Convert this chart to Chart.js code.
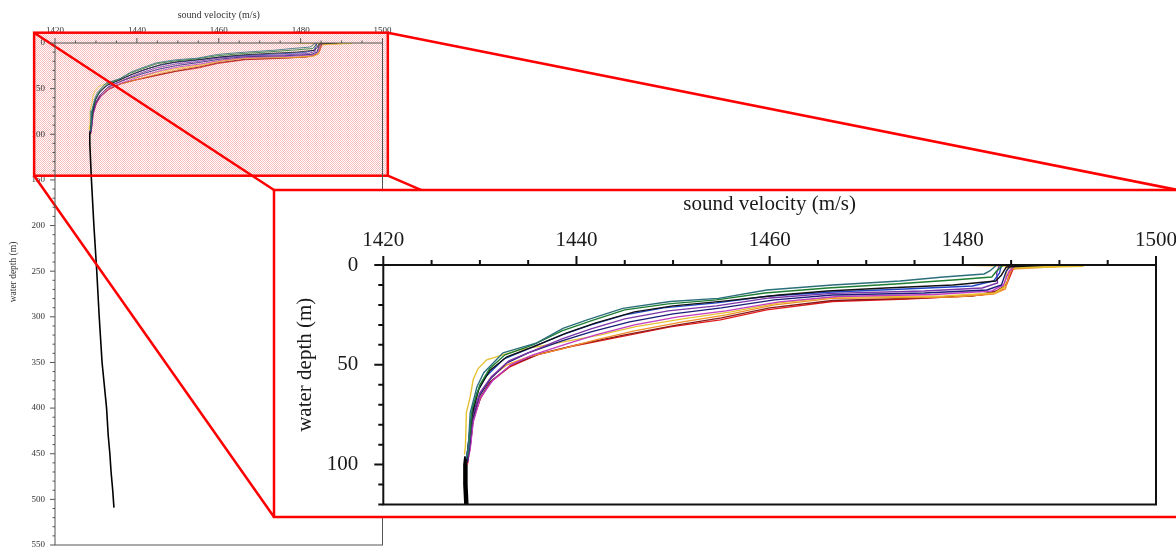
<!DOCTYPE html>
<html lang="en">
<head>
    <meta charset="UTF-8">
    <title>Sound velocity profiles</title>
    <script src="https://cdn.jsdelivr.net/npm/chart.js"></script>
    <style>
        html, body { margin: 0; padding: 0; background: #fff; overflow: hidden; }
        body { width: 1176px; height: 551px; position: relative; }
        #mainChart { position: absolute; left: 0; top: 0; }
        #zoomChart { position: absolute; left: 272px; top: 188px; }
    </style>
</head>
<body>
    <canvas id="mainChart" width="1176" height="551"></canvas>
    <canvas id="zoomChart" width="920" height="331"></canvas>
    <script>
        // profiles: depth (m) and sound velocity (m/s)
        var tealDepth = [0, 3, 4.5, 6, 8, 10, 12.5, 16.7, 18.3, 21.7, 27.5, 31.7, 39, 44, 54, 61, 74, 91, 97];
        var tealVel = [1483.5, 1482.8, 1482.2, 1478, 1473.5, 1466.5, 1459.7, 1454.7, 1449.7, 1444.8, 1441.1, 1438.6, 1435.9, 1432.4, 1430.4, 1429.7, 1429.0, 1428.8, 1428.6];

        var greenDepth = [0, 3, 6, 7.5, 9.5, 11.5, 14, 17.5, 19.5, 22.5, 28, 33, 40, 45, 52, 60, 72, 88, 96];
        var greenVel = [1484.2, 1483.5, 1483, 1479, 1473, 1466, 1459.5, 1454.5, 1449.5, 1445, 1441.5, 1438.5, 1435.5, 1432.6, 1431, 1430, 1429.2, 1428.9, 1428.7];

        var blackDepth = [0, 1, 5, 8, 10, 11.5, 13, 15, 18, 20.5, 23.5, 29, 34, 41, 46, 53, 62, 75, 90, 100];
        var blackVel = [1489, 1484.5, 1484, 1483.4, 1479, 1472, 1466, 1461, 1455.5, 1450, 1446, 1442, 1439, 1435.5, 1432.8, 1431, 1429.9, 1429.2, 1428.8, 1428.6];

        var blueDepth = [0, 4, 8, 10.5, 12, 13.5, 15.5, 19, 21.5, 25, 30, 35, 42, 47, 56, 64, 76, 90, 97];
        var blueVel = [1484, 1483.8, 1483.2, 1481, 1474, 1466.5, 1460, 1454.5, 1449, 1445, 1441.5, 1438.5, 1435, 1432.5, 1430.6, 1429.7, 1429.1, 1428.8, 1428.6];

        var purpleDepth = [0, 4, 9, 11.5, 13, 14.2, 16.5, 20.5, 23, 27, 32, 37, 43, 48, 56, 64, 76, 90, 98];
        var purpleVel = [1483.8, 1483.5, 1483.6, 1482, 1476, 1466.5, 1460, 1454.5, 1449.5, 1445, 1441.5, 1438.5, 1435.5, 1433, 1431.2, 1430, 1429.2, 1428.9, 1428.7];

        var navyDepth = [0, 3, 10, 12.5, 14, 15, 17.5, 21.5, 24.5, 28.5, 33.5, 38, 44, 49, 57, 66, 78, 92, 99];
        var navyVel = [1485, 1484.5, 1484, 1482.5, 1476, 1466.5, 1460.5, 1455, 1450, 1445.5, 1441.5, 1438.5, 1435, 1432.8, 1431.1, 1429.9, 1429.2, 1428.9, 1428.7];

        var magentaDepth = [0, 3, 10, 13, 14.8, 15.8, 18.5, 23, 26, 30, 35, 39.5, 45, 50, 58, 67, 79, 92, 99];
        var magentaVel = [1485.5, 1484.8, 1484.2, 1483, 1477, 1467, 1461, 1455.5, 1450.5, 1446, 1442, 1439, 1435.5, 1433.2, 1431.3, 1430, 1429.3, 1429, 1428.7];

        var yellowDepth = [0, 0.6, 1.5, 11, 14, 15.5, 16.2, 19, 23.5, 27, 31, 35, 40, 42.5, 47.5, 52, 57.5, 66, 74, 91, 95];
        var yellowVel = [1477.5, 1492.5, 1484.6, 1484.3, 1483.3, 1478, 1466.5, 1461, 1456, 1451, 1446, 1442.5, 1437, 1434.1, 1430.7, 1429.8, 1429.3, 1429, 1428.6, 1428.5, 1428.4];

        var orangeDepth = [0, 0.8, 2, 12, 14.5, 16, 16.7, 20, 25, 28.5, 33, 37.5, 42, 46, 50, 56, 63, 74, 86, 92];
        var orangeVel = [1479, 1490, 1485, 1484.4, 1483.2, 1479, 1466.5, 1460.5, 1455.5, 1451, 1446, 1442, 1438.5, 1435, 1432.8, 1431.2, 1430.2, 1429.4, 1429, 1428.8];

        var darkredDepth = [0, 2, 10, 13, 15.5, 16.8, 17.8, 21.5, 26.5, 30, 35, 40, 44.5, 50, 58, 66, 77, 90, 98];
        var darkredVel = [1485.5, 1485, 1484.5, 1483.5, 1481, 1474, 1466.5, 1460, 1455, 1450.5, 1445, 1440, 1436.2, 1433.3, 1431.2, 1430.1, 1429.3, 1429, 1428.7];

        var redDepth = [0, 2, 9, 12.5, 15, 16, 17, 18.3, 22.5, 27.5, 31, 36, 41, 45, 51, 59, 67.5, 77.5, 91, 100];
        var redVel = [1486.5, 1485.2, 1484.6, 1484, 1482, 1478.3, 1474.2, 1466.5, 1459.7, 1454.9, 1449.7, 1444.5, 1439.3, 1435.9, 1433.1, 1431, 1430, 1429.3, 1429, 1428.7];

        var deepDepth = [96, 100, 110, 120, 150, 200, 250, 300, 350, 400, 430, 450, 470, 490, 509];
        var deepVel = [1428.6, 1428.5, 1428.5, 1428.6, 1428.9, 1429.5, 1430.2, 1430.8, 1431.5, 1432.6, 1433.0, 1433.4, 1433.7, 1434.1, 1434.4];

        var xTicks = [1420, 1440, 1460, 1480, 1500];
        var mainDepthTicks = [0, 50, 100, 150, 200, 250, 300, 350, 400, 450, 500, 550];
        var zoomDepthTicks = [0, 50, 100];

        // zoomed region marked on the full profile (velocity, depth)
        var boxVel = [1414.9, 1501.3];
        var boxDepth = [-11.3, 145.4];
        // corners of the inset frame on the page
        var insetLeft = 274, insetTop = 190, insetRight = 1178, insetBottom = 517;

        var serif = "'Liberation Serif', 'Times New Roman', serif";

        var profiles = [
            [tealDepth, tealVel, '#2b6f7a'],
            [greenDepth, greenVel, '#1e7d32'],
            [blackDepth, blackVel, '#111111'],
            [blueDepth, blueVel, '#1f45c8'],
            [purpleDepth, purpleVel, '#7a35a8'],
            [navyDepth, navyVel, '#1c1c7a'],
            [magentaDepth, magentaVel, '#c23cc2'],
            [yellowDepth, yellowVel, '#e6c232'],
            [orangeDepth, orangeVel, '#f0902a'],
            [darkredDepth, darkredVel, '#8a1a1a'],
            [redDepth, redVel, '#e41b1b']
        ];

        function toPoints(depths, vels) {
            return depths.map(function (d, i) { return { x: vels[i], y: d }; });
        }

        function buildDatasets(width, deepWidth) {
            var sets = profiles.map(function (p) {
                return {
                    data: toPoints(p[0], p[1]),
                    showLine: true,
                    borderColor: p[2],
                    borderWidth: width,
                    pointRadius: 0
                };
            });
            sets.push({
                data: toPoints(deepDepth, deepVel),
                showLine: true,
                borderColor: '#000',
                borderWidth: deepWidth,
                pointRadius: 0
            });
            return sets;
        }

        // frame around the plot plus outward major / minor ticks
        function frameTicks(o) {
            return {
                id: 'frameTicks',
                afterDraw: function (chart) {
                    var ctx = chart.ctx, a = chart.chartArea, sx = chart.scales.x, sy = chart.scales.y;
                    ctx.save();
                    ctx.strokeStyle = o.color;
                    ctx.lineWidth = o.width;
                    ctx.strokeRect(a.left, a.top, a.right - a.left, a.bottom - a.top);
                    ctx.beginPath();
                    sx.ticks.forEach(function (t) {
                        var px = sx.getPixelForValue(t.value);
                        var len = xTicks.indexOf(t.value) >= 0 ? o.major : o.minor;
                        ctx.moveTo(px, a.top);
                        ctx.lineTo(px, a.top - len);
                    });
                    sy.ticks.forEach(function (t) {
                        var py = sy.getPixelForValue(t.value);
                        var len = t.value % 50 === 0 ? o.major : o.minor;
                        ctx.moveTo(a.left, py);
                        ctx.lineTo(a.left - len, py);
                    });
                    ctx.stroke();

                    // y axis title, drawn by hand (sits above the centre in the original)
                    ctx.fillStyle = o.textColor;
                    ctx.font = o.titleSize + 'px ' + serif;
                    ctx.textAlign = 'center';
                    ctx.textBaseline = 'middle';
                    ctx.translate(o.titleX, (a.top + a.bottom) / 2 - o.titleShift);
                    ctx.rotate(-Math.PI / 2);
                    ctx.fillText('water depth (m)', 0, 0);
                    ctx.restore();
                }
            };
        }

        var pattern = (function () {
            var c = document.createElement('canvas');
            c.width = 2; c.height = 2;
            var g = c.getContext('2d');
            g.fillStyle = '#ffffff'; g.fillRect(0, 0, 2, 2);
            g.fillStyle = '#f8bcbc'; g.fillRect(0, 0, 1, 1); g.fillRect(1, 1, 1, 1);
            return c;
        })();

        function boxRect(chart) {
            var sx = chart.scales.x, sy = chart.scales.y;
            var x1 = sx.getPixelForValue(boxVel[0]), x2 = sx.getPixelForValue(boxVel[1]);
            var y1 = sy.getPixelForValue(boxDepth[0]), y2 = sy.getPixelForValue(boxDepth[1]);
            return { x1: x1, x2: x2, y1: y1, y2: y2 };
        }

        var zoomMarker = {
            id: 'zoomMarker',
            beforeDraw: function (chart) {
                var ctx = chart.ctx, r = boxRect(chart);
                ctx.save();
                ctx.fillStyle = ctx.createPattern(pattern, 'repeat');
                ctx.fillRect(r.x1, r.y1, r.x2 - r.x1, r.y2 - r.y1);
                ctx.restore();
            },
            afterDraw: function (chart) {
                var ctx = chart.ctx, r = boxRect(chart);
                ctx.save();
                ctx.strokeStyle = '#ff0000';
                ctx.lineWidth = 2.5;
                ctx.strokeRect(r.x1, r.y1, r.x2 - r.x1, r.y2 - r.y1);
                ctx.beginPath();
                ctx.moveTo(r.x1, r.y1); ctx.lineTo(insetLeft, insetTop);
                ctx.moveTo(r.x2, r.y1); ctx.lineTo(insetRight, insetTop);
                ctx.moveTo(r.x1, r.y2); ctx.lineTo(insetLeft, insetBottom);
                ctx.moveTo(r.x2, r.y2); ctx.lineTo(insetRight, insetBottom);
                ctx.stroke();
                ctx.restore();
            }
        };

        var insetFrame = {
            id: 'insetFrame',
            beforeDraw: function (chart) {
                var ctx = chart.ctx;
                ctx.save();
                ctx.fillStyle = '#fff';
                ctx.fillRect(2, 2, insetRight - insetLeft, insetBottom - insetTop);
                ctx.restore();
            },
            afterDraw: function (chart) {
                var ctx = chart.ctx;
                ctx.save();
                ctx.strokeStyle = '#ff0000';
                ctx.lineWidth = 2.5;
                ctx.strokeRect(2, 2, insetRight - insetLeft, insetBottom - insetTop);
                ctx.restore();
            }
        };

        function xLabel(v) { return xTicks.indexOf(v) >= 0 ? String(v) : ''; }
        // keep the plot box where it is in the original: no extra room for end labels
        function fixHeight(h) { return function (s) { s.height = h; s.paddingLeft = 0; s.paddingRight = 0; }; }
        function fixWidth(w) { return function (s) { s.width = w; s.paddingTop = 0; s.paddingBottom = 0; }; }

        var mainChart = new Chart(document.getElementById('mainChart'), {
            type: 'scatter',
            data: { datasets: buildDatasets(0.8, 1.6) },
            options: {
                responsive: false,
                animation: false,
                layout: { padding: { left: 0, top: 0, right: 793.5, bottom: 6 } },
                plugins: { legend: { display: false }, tooltip: { enabled: false } },
                scales: {
                    x: {
                        type: 'linear',
                        position: 'top',
                        min: 1420,
                        max: 1500,
                        afterFit: fixHeight(43),
                        grid: { display: false, drawTicks: false },
                        border: { display: false },
                        ticks: {
                            stepSize: 5, autoSkip: false, maxRotation: 0, padding: 7,
                            color: '#333', font: { family: serif, size: 9 },
                            callback: xLabel
                        },
                        title: {
                            display: true, text: 'sound velocity (m/s)', color: '#333',
                            font: { family: serif, size: 10 }, padding: { top: 9, bottom: 0 }
                        }
                    },
                    y: {
                        type: 'linear',
                        reverse: true,
                        min: 0,
                        max: 550,
                        afterFit: fixWidth(55),
                        grid: { display: false, drawTicks: false },
                        border: { display: false },
                        ticks: {
                            stepSize: 10, autoSkip: false, padding: 10,
                            color: '#333', font: { family: serif, size: 9 },
                            callback: function (v) { return mainDepthTicks.indexOf(v) >= 0 ? String(v) : ''; }
                        }
                    }
                }
            },
            plugins: [zoomMarker, frameTicks({ color: '#555', width: 1, major: 5, minor: 2.5, textColor: '#333', titleSize: 9.5, titleX: 13, titleShift: 22 })]
        });

        var zoomChart = new Chart(document.getElementById('zoomChart'), {
            type: 'scatter',
            data: { datasets: buildDatasets(1.4, 4.5) },
            options: {
                responsive: false,
                animation: false,
                layout: { padding: { left: 0, top: 0, right: 36, bottom: 14.5 } },
                plugins: { legend: { display: false }, tooltip: { enabled: false } },
                scales: {
                    x: {
                        type: 'linear',
                        position: 'top',
                        min: 1420,
                        max: 1500,
                        afterFit: fixHeight(77),
                        grid: { display: false, drawTicks: false },
                        border: { display: false },
                        ticks: {
                            stepSize: 5, autoSkip: false, maxRotation: 0, padding: 12.4,
                            color: '#1a1a1a', font: { family: serif, size: 21 },
                            callback: xLabel
                        },
                        title: {
                            display: true, text: 'sound velocity (m/s)', color: '#1a1a1a',
                            font: { family: serif, size: 21 }, padding: { top: 3.4, bottom: 0 }
                        }
                    },
                    y: {
                        type: 'linear',
                        reverse: true,
                        min: 0,
                        max: 120,
                        afterFit: fixWidth(111.3),
                        grid: { display: false, drawTicks: false },
                        border: { display: false },
                        ticks: {
                            stepSize: 10, autoSkip: false, padding: 25,
                            color: '#1a1a1a', font: { family: serif, size: 21 },
                            callback: function (v) { return zoomDepthTicks.indexOf(v) >= 0 ? String(v) : ''; }
                        }
                    }
                }
            },
            plugins: [insetFrame, frameTicks({ color: '#111', width: 2, major: 9, minor: 5, textColor: '#1a1a1a', titleSize: 21, titleX: 33, titleShift: 20 })]
        });
    </script>
</body>
</html>
